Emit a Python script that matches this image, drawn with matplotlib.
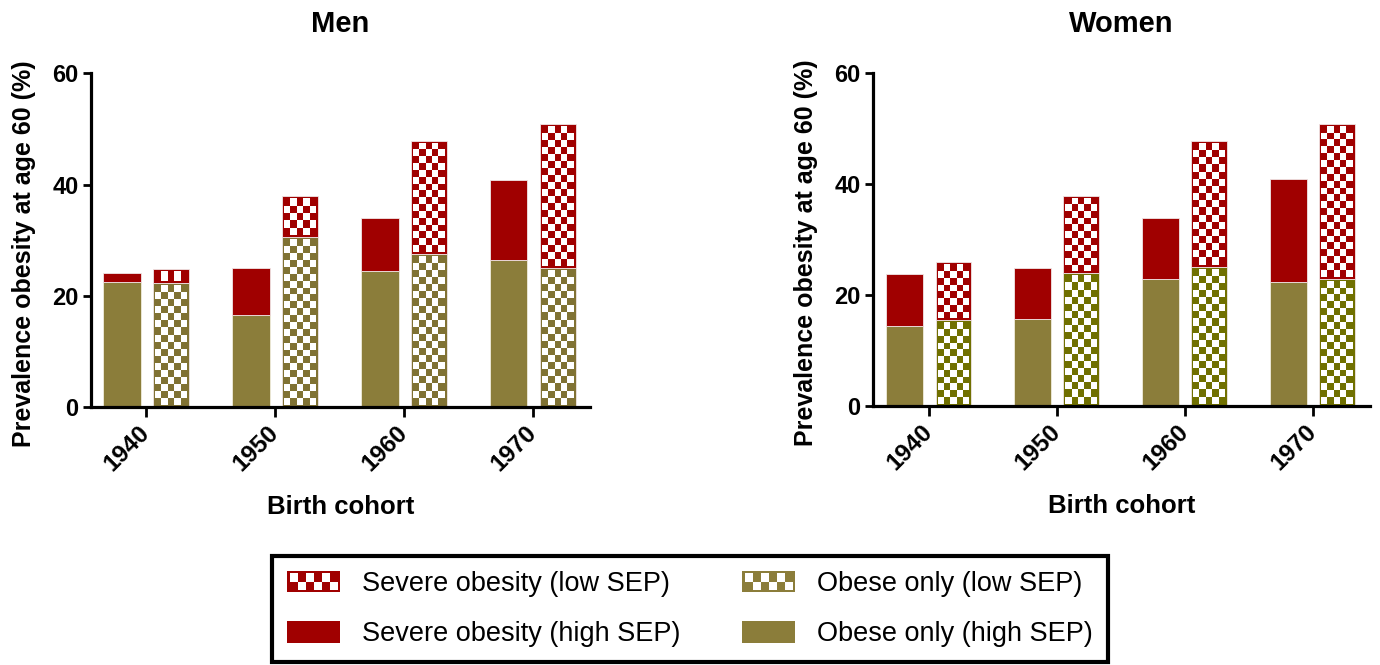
import matplotlib
matplotlib.use("Agg")
import matplotlib.pyplot as plt
from matplotlib.patches import Rectangle, Patch
from matplotlib.legend_handler import HandlerPatch

cohorts = ["1940", "1950", "1960", "1970"]

# values (% obese at age 60)
men_high_obese = [22.5, 16.5, 24.5, 26.4]
men_high_severe = [1.5, 8.4, 9.4, 14.5]
men_low_obese = [22.2, 30.5, 27.5, 25.0]
men_low_severe = [2.6, 7.4, 20.4, 25.9]

women_high_obese = [14.4, 15.6, 22.9, 22.4]
women_high_severe = [9.4, 9.3, 10.9, 18.5]
women_low_obese = [15.4, 23.9, 25.1, 22.9]
women_low_severe = [10.5, 14.0, 22.7, 28.0]

OLIVE = "#8b7d3a"
RED = "#a00000"
MEN_CHECK = "#807233"
WOMEN_CHECK = "#707000"

plt.rcParams['font.family'] = ['Liberation Sans', 'DejaVu Sans']


def checker_bar(ax, x, width, bottom, height, color, cell=7.0, inset=2.0):
    ax.bar(x, height, width, bottom=bottom, color=color, edgecolor='#f0e6e6',
           linewidth=0.6, zorder=2)
    tr = ax.transData
    x0, y0 = tr.transform((x - width / 2, bottom))
    x1, y1 = tr.transform((x + width / 2, bottom + height))
    inner_w = (x1 - x0) - 2 * inset
    inner_h = (y1 - y0) - 2 * inset
    ncol = max(1, round(inner_w / cell))
    nrow = max(1, round(inner_h / cell))
    cw = inner_w / ncol
    ch = inner_h / nrow
    back = tr.inverted()
    for r in range(nrow):
        for c in range(ncol):
            if (r + c) % 2 == 0:
                continue
            px = x0 + inset + c * cw
            py = y1 - inset - (r + 1) * ch
            dx0, dy0 = back.transform((px, py))
            dx1, dy1 = back.transform((px + cw, py + ch))
            ax.add_patch(Rectangle((dx0, dy0), dx1 - dx0, dy1 - dy0,
                                   facecolor='white', edgecolor='none', zorder=3))


class HandlerChecker(HandlerPatch):
    def create_artists(self, legend, orig_handle, xdescent, ydescent,
                       width, height, fontsize, trans):
        x0, y0 = -xdescent, -ydescent
        arts = [Rectangle((x0, y0), width, height, facecolor=orig_handle.get_facecolor(),
                          edgecolor='none', transform=trans)]
        ncol, nrow = 6, 2
        inset = height * 0.12
        cw = (width - 2 * inset) / ncol
        ch = (height - 2 * inset) / nrow
        for r in range(nrow):
            for c in range(ncol):
                if (r + c) % 2 == 0:
                    continue
                arts.append(Rectangle((x0 + inset + c * cw, y0 + inset + r * ch), cw, ch,
                                      facecolor='white', edgecolor='none', transform=trans))
        return arts


def draw_panel(ax, title, xlim, high_obese, high_severe, low_obese, low_severe, check_col):
    ax.set_xlim(*xlim)
    ax.set_ylim(0, 60)
    pos = list(range(len(cohorts)))
    left = [p - 0.19 for p in pos]
    right = [p + 0.19 for p in pos]
    ax.bar(left, high_obese, 0.29, color=OLIVE, edgecolor='#f0ecdc', linewidth=0.6, zorder=2)
    ax.bar(left, high_severe, 0.29, bottom=high_obese, color=RED, edgecolor='#f0e6e6',
           linewidth=0.6, zorder=2)
    for i in range(len(cohorts)):
        checker_bar(ax, right[i], 0.28, 0, low_obese[i], check_col)
        checker_bar(ax, right[i], 0.28, low_obese[i], low_severe[i], RED)

    ax.spines['top'].set_visible(False)
    ax.spines['right'].set_visible(False)
    ax.spines['left'].set_linewidth(2.3)
    ax.spines['bottom'].set_linewidth(2.3)
    ax.set_yticks([0, 20, 40, 60])
    ax.set_xticks(pos)
    ax.set_xticklabels(cohorts, rotation=45, ha='right', va='center', rotation_mode='anchor')
    ax.tick_params(axis='y', length=6, width=2, labelsize=17, pad=3)
    ax.tick_params(axis='x', length=7, width=2, labelsize=17.5, pad=9)
    for lab in ax.get_xticklabels() + ax.get_yticklabels():
        lab.set_fontweight('bold')
    ax.set_title(title, fontsize=21, fontweight='bold', pad=30)
    ax.set_xlabel("Birth cohort", fontsize=18.5, fontweight='bold', labelpad=14)
    ax.set_ylabel("Prevalence obesity at age 60 (%)", fontsize=18, fontweight='bold')
    ax.yaxis.set_label_coords(-0.11, 0.46)


fig = plt.figure(figsize=(13.8, 6.65), dpi=100)
ax_men = fig.add_axes([91 / 1380, 1 - 406.7 / 665, 499 / 1380, 333.3 / 665])
ax_women = fig.add_axes([873 / 1380, 1 - 405.7 / 665, 497 / 1380, 332.4 / 665])

draw_panel(ax_men, "Men", (-0.43, 3.44), men_high_obese, men_high_severe,
           men_low_obese, men_low_severe, MEN_CHECK)
draw_panel(ax_women, "Women", (-0.44, 3.45), women_high_obese, women_high_severe,
           women_low_obese, women_low_severe, WOMEN_CHECK)

h_sev_low = Patch(facecolor=RED, label="Severe obesity (low SEP)")
h_sev_high = Patch(facecolor=RED, label="Severe obesity (high SEP)")
h_ob_low = Patch(facecolor=OLIVE, label="Obese only (low SEP)")
h_ob_high = Patch(facecolor=OLIVE, label="Obese only (high SEP)")
leg = fig.legend(handles=[h_sev_low, h_sev_high, h_ob_low, h_ob_high], ncol=2,
                 loc='upper center', bbox_to_anchor=(0.5, 1 - 556 / 665), borderaxespad=0,
                 fontsize=19.5, frameon=True, fancybox=False, edgecolor='black', framealpha=1,
                 handlelength=1.95, handleheight=0.85, handletextpad=0.8,
                 columnspacing=2.3, labelspacing=0.88, borderpad=0.55,
                 handler_map={h_sev_low: HandlerChecker(), h_ob_low: HandlerChecker()})
leg.get_frame().set_linewidth(3)

fig.savefig("out.png", dpi=100)
